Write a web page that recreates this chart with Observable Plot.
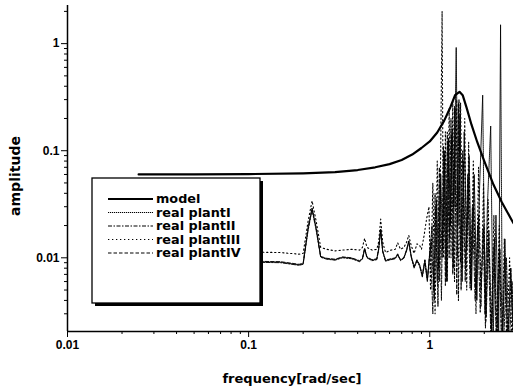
<!DOCTYPE html>
<html><head><meta charset="utf-8">
<script src="https://cdn.jsdelivr.net/npm/d3@7"></script>
<script src="https://cdn.jsdelivr.net/npm/@observablehq/plot@0.6"></script>
<style>
body{margin:0;background:#fff;}
#chart{width:513px;height:387px;}
</style></head><body><div id="chart"></div>
<script>
// ---- data ----
const seriesNames = ["model", "real plantI", "real plantII", "real plantIII", "real plantIV"];
const xTicks = [0.01, 0.1, 1];
const yTicks = [0.01, 0.1, 1];
const xLabel = "frequency[rad/sec]";
const yLabel = "amplitude";

const modelFreq = [0.0247,0.05,0.1,0.2,0.3,0.4,0.5,0.6,0.7,0.8,0.9,1.0,1.1,1.2,1.3,1.38,1.46,1.52,1.6,1.7,1.83,2.0,2.25,2.5,2.9];
const modelAmp  = [0.060,0.060,0.0605,0.0615,0.063,0.066,0.070,0.075,0.082,0.092,0.106,0.122,0.148,0.19,0.255,0.33,0.355,0.33,0.25,0.175,0.12,0.08,0.048,0.033,0.021];

const lowFreq = [0.0247,0.05,0.1,0.15,0.19,0.2,0.213,0.224,0.236,0.25,0.27,0.3,0.33,0.37,0.41,0.425,0.437,0.45,0.48,0.51,0.522,0.536,0.55,0.57,0.61,0.645,0.665,0.69,0.72,0.745,0.766,0.79,0.82,0.85,0.88,0.91,0.94,0.97,1.0];

const plantIFreq = lowFreq.concat([1.03,1.06,1.09,1.12,1.15,1.18,1.21,1.24,1.27,1.3,1.33,1.36,1.4,1.43,1.47,1.51,1.55,1.6,1.65,1.7,1.76,1.82,1.88,1.96,2.02,2.08,2.17,2.24,2.32,2.4,2.46,2.52,2.6,2.7,2.8,2.9]);
const plantIAmp = [0.0095,0.0094,0.0092,0.0091,0.0086,0.0088,0.019,0.029,0.019,0.0102,0.0098,0.0096,0.0101,0.0099,0.0093,0.0098,0.0122,0.0101,0.0095,0.0097,0.012,0.0185,0.0115,0.0094,0.0097,0.0099,0.0108,0.0095,0.01,0.0118,0.0143,0.0103,0.0082,0.0095,0.0085,0.0068,0.0095,0.0062,0.011,
  0.02,0.004,0.035,0.008,0.06,0.012,0.1,0.006,0.13,0.02,0.16,0.03,0.92,0.02,0.22,0.006,0.15,0.012,0.09,0.005,0.06,0.004,0.04,0.33,0.003,0.03,0.17,0.0018,0.025,0.0015,1.5,0.0012,0.015,0.0015,0.008,0.0018];

const plantIIFreq = lowFreq.concat([1.02,1.05,1.08,1.11,1.14,1.17,1.2,1.23,1.26,1.29,1.32,1.35,1.38,1.42,1.45,1.49,1.53,1.58,1.63,1.68,1.74,1.8,1.86,1.92,1.99,2.05,2.12,2.2,2.28,2.36,2.44,2.55,2.65,2.75,2.85,2.9]);
const plantIIAmp = [0.0094,0.0093,0.0091,0.009,0.0085,0.0087,0.018,0.028,0.018,0.0101,0.0097,0.0095,0.01,0.0098,0.0092,0.0097,0.012,0.01,0.0094,0.0096,0.0118,0.018,0.0113,0.0093,0.0096,0.0098,0.0106,0.0094,0.0099,0.0116,0.014,0.0101,0.008,0.0093,0.0083,0.0066,0.009,0.006,0.0105,
  0.015,0.005,0.03,0.0035,0.05,0.01,0.09,0.007,0.12,0.015,0.14,0.008,0.25,0.01,0.3,0.005,0.08,0.008,0.05,0.006,0.03,0.0045,0.025,0.005,0.02,0.0028,0.018,0.002,0.015,0.0015,0.012,0.0012,0.01,0.0015,0.006,0.002];

const plantIIIFreq = [0.0247,0.05,0.1,0.15,0.19,0.2,0.213,0.224,0.236,0.25,0.27,0.3,0.33,0.37,0.41,0.425,0.437,0.45,0.48,0.51,0.522,0.536,0.55,0.57,0.61,0.645,0.665,0.69,0.72,0.745,0.766,0.79,0.82,0.85,0.88,0.9,0.93,0.96,0.99,
  1.01,1.04,1.07,1.1,1.13,1.17,1.19,1.22,1.25,1.28,1.31,1.34,1.37,1.41,1.44,1.48,1.52,1.56,1.6,1.64,1.69,1.74,1.8,1.86,1.92,1.98,2.04,2.1,2.18,2.26,2.34,2.42,2.5,2.58,2.66,2.76,2.85,2.9];
const plantIIIAmp = [0.0116,0.0115,0.0113,0.0112,0.0108,0.011,0.022,0.034,0.022,0.0125,0.012,0.0116,0.0118,0.012,0.0118,0.0125,0.0152,0.0125,0.0118,0.012,0.014,0.023,0.014,0.0112,0.0118,0.012,0.0138,0.012,0.0125,0.014,0.0162,0.013,0.011,0.0135,0.013,0.012,0.016,0.023,0.03,
  0.005,0.05,0.003,0.08,0.006,2.0,0.01,0.15,0.006,0.25,0.01,0.3,0.006,0.3,0.004,0.28,0.008,0.2,0.005,0.12,0.005,0.08,0.003,0.07,0.0035,0.05,0.0025,0.035,0.0018,0.025,0.0015,0.02,0.0012,0.015,0.0015,0.01,0.0014,0.006];

const plantIVFreq = lowFreq.concat([1.01,1.04,1.07,1.1,1.13,1.16,1.19,1.22,1.25,1.28,1.31,1.34,1.37,1.41,1.44,1.48,1.52,1.57,1.62,1.67,1.72,1.78,1.84,1.9,1.97,2.03,2.1,2.18,2.26,2.34,2.42,2.5,2.6,2.7,2.8,2.9]);
const plantIVAmp = [0.0096,0.0095,0.0093,0.0092,0.0087,0.0089,0.019,0.029,0.019,0.0103,0.0099,0.0097,0.0102,0.01,0.0094,0.0099,0.0123,0.0102,0.0096,0.0098,0.0121,0.0186,0.0116,0.0095,0.0098,0.01,0.0109,0.0096,0.0101,0.0119,0.0144,0.0104,0.0083,0.0096,0.0086,0.0069,0.0096,0.0063,0.0112,
  0.012,0.003,0.04,0.006,0.07,0.004,0.11,0.0055,0.15,0.01,0.2,0.007,0.26,0.0045,0.28,0.009,0.1,0.006,0.06,0.0052,0.03,0.004,0.02,0.0031,0.018,0.0022,0.015,0.0016,0.013,0.0013,0.012,0.0012,0.01,0.0014,0.008,0.0016];

// ---- styles ----
const dashes = [null, "1.2,0.8", "4,1.5,1.5,1.5", "1.3,2.7", "3.5,2"];
const widths = [2.2, 0.9, 0.9, 1.1, 0.9];

const rows = (f, a) => f.map((x, i) => ({x, y: a[i]}));
const plants = [
  rows(plantIFreq, plantIAmp), rows(plantIIFreq, plantIIAmp),
  rows(plantIIIFreq, plantIIIAmp), rows(plantIVFreq, plantIVAmp)
];
const model = rows(modelFreq, modelAmp);

const xDomain = [0.01, 2.9];
const yDomain = [0.00205, 2.27];
const minor = (lo, hi) => { const out = []; for (let e = -3; e <= 0; e++) for (let m = 2; m <= 9; m++) { const v = m * Math.pow(10, e); if (v > lo && v < hi) out.push(v); } return out; };

const font = "'Liberation Sans', Arial, sans-serif";
const titleFont = "'DejaVu Sans', sans-serif";
const chart = Plot.plot({
  width: 513, height: 387,
  marginLeft: 67, marginRight: 0, marginTop: 5, marginBottom: 56,
  x: {type: "log", domain: xDomain},
  y: {type: "log", domain: yDomain},
  style: {fontFamily: font, fontSize: "12px", fontWeight: "bold", color: "black", background: "white"},
  marks: [
    ...plants.map((d, i) => Plot.line(d, {x: "x", y: "y", stroke: "black", strokeWidth: widths[i + 1], strokeDasharray: dashes[i + 1], clip: true})),
    Plot.line(model, {x: "x", y: "y", stroke: "black", strokeWidth: widths[0], clip: true}),
    Plot.ruleX([xDomain[0]], {stroke: "black", strokeWidth: 1.5}),
    Plot.ruleY([yDomain[0]], {stroke: "black", strokeWidth: 1.5}),
    Plot.axisX({ticks: xTicks, tickFormat: d => String(d), tickSize: 6, tickPadding: 3, label: null, fontSize: 12, fontWeight: "bold"}),
    Plot.axisX({ticks: minor(xDomain[0], xDomain[1]), tickFormat: () => "", tickSize: 3, label: null}),
    Plot.axisY({ticks: yTicks, tickFormat: d => String(d), tickSize: 6, tickPadding: 2, label: null, fontSize: 12, fontWeight: "bold"}),
    Plot.axisY({ticks: minor(yDomain[0], yDomain[1]), tickFormat: () => "", tickSize: 3, label: null})
  ]
});
document.getElementById("chart").appendChild(chart);

const svg = d3.select(chart);
// axis titles
svg.append("text").attr("x", 292).attr("y", 383).attr("text-anchor", "middle")
  .attr("font-family", titleFont).attr("font-weight", "bold").attr("font-size", 13).attr("fill", "black").text(xLabel);
svg.append("text").attr("transform", "translate(15,176) rotate(-90)").attr("text-anchor", "middle").attr("dy", "0.35em")
  .attr("font-family", titleFont).attr("font-weight", "bold").attr("font-size", 14).attr("fill", "black").text(yLabel);

// ---- legend box drawn inside the plot ----
const L = {x: 92, y: 178, w: 168, h: 125, row0: 199, rowStep: 13.5, lx1: 108, lx2: 153, tx: 156};
const g = svg.append("g").attr("font-family", titleFont).attr("font-weight", "bold").attr("font-size", 12.8).attr("text-anchor", "start");
g.append("rect").attr("x", L.x + 3).attr("y", L.y + 3).attr("width", L.w).attr("height", L.h).attr("fill", "black");
g.append("rect").attr("x", L.x).attr("y", L.y).attr("width", L.w).attr("height", L.h).attr("fill", "white").attr("stroke", "black").attr("stroke-width", 1.3);
seriesNames.forEach((name, i) => {
  const y = L.row0 + i * L.rowStep;
  g.append("line").attr("x1", L.lx1).attr("x2", L.lx2).attr("y1", y).attr("y2", y)
    .attr("stroke", "black").attr("stroke-width", i === 0 ? 2 : 1.2)
    .attr("stroke-dasharray", dashes[i]);
  g.append("text").attr("x", L.tx).attr("y", y).attr("dy", "0.35em").attr("text-anchor", "start").attr("fill", "black").text(name);
});
</script>
</body></html>
